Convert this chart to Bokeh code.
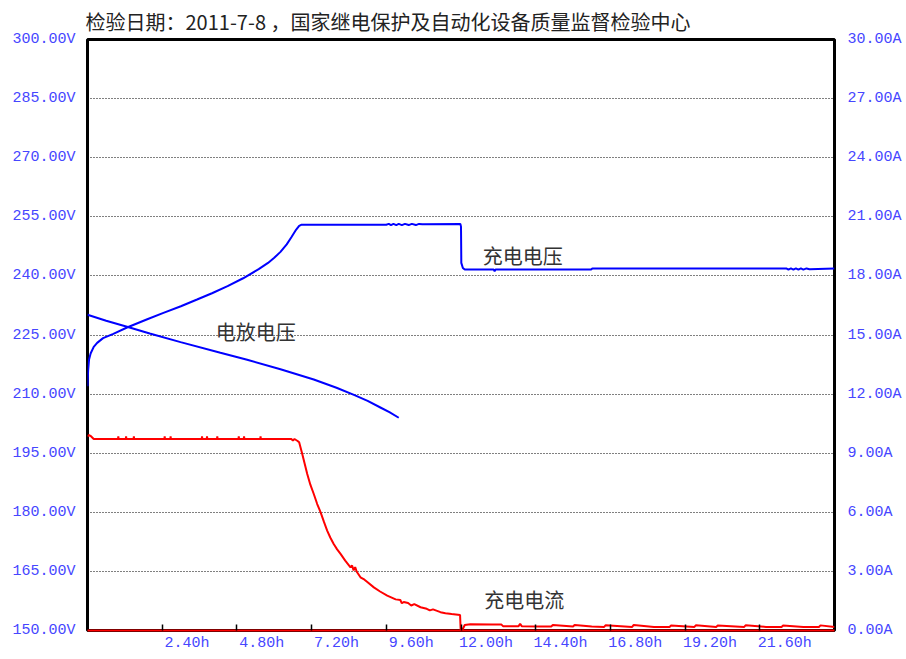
from bokeh.plotting import figure
from bokeh.models import Range1d, LinearAxis, FixedTicker, PrintfTickFormatter
from bokeh.core.properties import value
from bokeh.embed import file_html
from bokeh.resources import INLINE

TITLE = "检验日期：2011-7-8 ，国家继电保护及自动化设备质量监督检验中心"

# Axis ticks and labels
volt_ticks = [150, 165, 180, 195, 210, 225, 240, 255, 270, 285, 300]
amp_ticks = [0, 3, 6, 9, 12, 15, 18, 21, 24, 27, 30]
hour_ticks = [2.4, 4.8, 7.2, 9.6, 12.0, 14.4, 16.8, 19.2, 21.6]
hour_labels = ["2.40h", "4.80h", "7.20h", "9.60h", "12.00h", "14.40h", "16.80h", "19.20h", "21.60h"]

# Charging voltage (V) vs time (h)
charge_v_h = [0.00, 0.02, 0.05, 0.10, 0.20, 0.31, 0.50, 0.83, 1.27, 1.92, 2.44, 3.00, 3.52,
              4.00, 4.50, 5.00, 5.50, 5.80, 6.00, 6.20, 6.40, 6.55, 6.70, 6.80, 6.88, 8.00, 9.60,
              9.68, 9.75, 9.83, 9.92, 10.00, 10.10, 10.20, 10.32, 10.42, 10.55, 10.65, 10.76,
              11.98, 12.00, 12.01, 12.06, 12.12, 13.05, 13.08, 13.11, 16.18, 16.22, 22.45,
              22.52, 22.60, 22.68, 22.76, 22.84, 22.92, 23.00, 23.10, 23.20, 24.00]
charge_v = [212.0, 216.0, 218.8, 220.3, 222.0, 223.0, 224.2, 225.3, 226.9, 229.0, 230.6, 232.3, 234.0,
            235.6, 237.4, 239.4, 241.7, 243.3, 244.6, 246.1, 248.0, 249.8, 251.7, 252.7, 253.0, 253.0, 253.0,
            253.2, 252.9, 253.2, 252.9, 253.2, 252.9, 253.2, 252.9, 253.2, 252.9, 253.2, 253.1,
            253.2, 252.5, 243.3, 242.0, 241.6, 241.6, 241.2, 241.6, 241.6, 241.9, 241.9,
            241.6, 241.9, 241.6, 241.9, 241.6, 241.9, 241.6, 241.9, 241.7, 241.9]

# Discharging voltage (V) vs time (h)
discharge_v_h = [0.00, 0.05, 0.60, 1.27, 2.00, 2.99, 4.27, 5.13, 6.20, 7.27, 8.00, 8.56, 9.00, 9.41, 9.70, 10.00]
discharge_v = [230.2, 230.0, 228.6, 227.1, 225.4, 223.2, 220.5, 218.7, 216.3, 213.7, 211.6, 209.8, 208.3, 206.6, 205.4, 204.0]

# Charging current (A) vs time (h)
current_h = [0.00, 0.05, 0.12, 0.20, 0.98, 0.99, 1.00, 1.23, 1.24, 1.25, 1.48, 1.49, 1.50,
             2.47, 2.48, 2.49, 2.66, 2.67, 2.68, 3.67, 3.68, 3.69, 3.83, 3.84, 3.85, 4.16, 4.17, 4.18,
             4.85, 4.86, 4.87, 5.02, 5.03, 5.04, 5.55, 5.56, 5.57, 6.55, 6.60, 6.65, 6.75, 6.80,
             6.90, 6.98, 7.06, 7.16, 7.27, 7.38, 7.49, 7.60, 7.70, 7.80, 7.91, 8.02, 8.13, 8.28,
             8.45, 8.50, 8.55, 8.60, 8.65, 8.77, 8.90, 9.00, 9.20, 9.40, 9.63, 9.90, 10.05, 10.10,
             10.16, 10.30, 10.40, 10.50, 10.70, 10.90, 11.00, 11.10, 11.34, 11.50, 11.70, 11.97,
             11.99, 12.05, 12.12, 12.30, 13.00, 13.30, 13.35, 13.85, 13.90, 13.95, 14.50, 14.90,
             14.95, 15.60, 15.65, 16.20, 16.60, 16.65, 17.50, 17.55, 18.20, 18.70, 18.75, 19.50,
             19.55, 20.20, 20.25, 21.10, 21.15, 21.80, 22.30, 22.35, 23.00, 23.50, 23.55, 24.00]
current_a = [9.85, 9.92, 9.85, 9.72, 9.72, 9.86, 9.72, 9.72, 9.86, 9.72, 9.72, 9.86, 9.72,
             9.72, 9.86, 9.72, 9.72, 9.86, 9.72, 9.72, 9.86, 9.72, 9.72, 9.86, 9.72, 9.72, 9.86, 9.72,
             9.72, 9.86, 9.72, 9.72, 9.86, 9.72, 9.72, 9.86, 9.72, 9.72, 9.64, 9.72, 9.62, 9.55,
             8.96, 8.45, 7.94, 7.40, 6.93, 6.42, 6.00, 5.50, 5.07, 4.72, 4.39, 4.12, 3.89, 3.55,
             3.21, 3.30, 3.05, 3.22, 2.98, 2.70, 2.58, 2.45, 2.19, 1.98, 1.77, 1.58, 1.55, 1.38,
             1.45, 1.40, 1.27, 1.34, 1.18, 1.10, 1.02, 1.07, 0.93, 0.88, 0.84, 0.79,
             0.00, 0.05, 0.28, 0.32, 0.30, 0.30, 0.22, 0.22, 0.34, 0.22, 0.20, 0.20,
             0.28, 0.20, 0.28, 0.20, 0.18, 0.27, 0.18, 0.28, 0.18, 0.18, 0.26, 0.18,
             0.27, 0.18, 0.26, 0.18, 0.27, 0.18, 0.18, 0.26, 0.18, 0.18, 0.26, 0.18]

# Curve captions
caption_text = ["充电电压", "电放电压", "充电电流"]
caption_h = [12.70, 4.12, 12.75]
caption_v = [245.2, 225.8, 157.9]

BLUE_TEXT = "#4646ff"
TICK_FONT = "Liberation Mono"
CJK_FONT = "Noto Sans CJK SC"

p = figure(width=906, height=659, output_backend="svg", toolbar_location=None,
           x_range=Range1d(0, 24), y_range=Range1d(150, 300),
           min_border_left=87, min_border_right=72, min_border_top=38, min_border_bottom=29,
           background_fill_color="white", border_fill_color="white")

p.title.text = TITLE
p.title.text_font = CJK_FONT
p.title.text_font_size = "20px"
p.title.text_font_style = "normal"
p.title.text_color = "#222222"
p.title.align = "left"
p.title.offset = -2
p.title.standoff = 8

p.outline_line_color = "black"
p.outline_line_width = 3
p.outline_line_alpha = 1.0

# Left voltage axis
ya = p.yaxis[0]
ya.ticker = FixedTicker(ticks=volt_ticks)
ya.formatter = PrintfTickFormatter(format="%.2fV")
ya.major_tick_in = 0
ya.major_tick_out = 0
ya.minor_tick_line_color = None
ya.axis_line_color = None
ya.major_label_standoff = 12
ya.major_label_text_font = TICK_FONT
ya.major_label_text_font_size = "15px"
ya.major_label_text_color = BLUE_TEXT

p.ygrid.ticker = FixedTicker(ticks=volt_ticks[1:-1])
p.ygrid.grid_line_color = "black"
p.ygrid.grid_line_dash = "1 2"
p.ygrid.grid_line_width = 1
p.xgrid.grid_line_color = None

# Right current axis
p.extra_y_ranges = {"amp": Range1d(0, 30)}
ra = LinearAxis(y_range_name="amp", ticker=FixedTicker(ticks=amp_ticks),
                formatter=PrintfTickFormatter(format="%.2fA"))
ra.major_tick_in = 0
ra.major_tick_out = 0
ra.minor_tick_line_color = None
ra.axis_line_color = None
ra.major_label_standoff = 13
ra.major_label_text_font = TICK_FONT
ra.major_label_text_font_size = "15px"
ra.major_label_text_color = BLUE_TEXT
p.add_layout(ra, "right")

# Bottom time axis: inward tick marks only
xa = p.xaxis[0]
xa.ticker = FixedTicker(ticks=hour_ticks)
xa.major_tick_in = 6
xa.major_tick_out = 0
xa.major_tick_line_color = "black"
xa.major_tick_line_width = 1.5
xa.minor_tick_line_color = None
xa.axis_line_color = "red"
xa.axis_line_width = 2
xa.major_label_text_font_size = "0px"
xa.major_label_text_color = None
xa.major_label_standoff = 0

# Bottom time axis: labels set just right of each tick
LABEL_SHIFT = 0.8
label_pos = [round(t + LABEL_SHIFT, 2) for t in hour_ticks]
xl = LinearAxis(ticker=FixedTicker(ticks=label_pos),
                major_label_overrides={pos: lab for pos, lab in zip(label_pos, hour_labels)})
xl.major_tick_in = 0
xl.major_tick_out = 0
xl.minor_tick_line_color = None
xl.axis_line_color = None
xl.major_label_standoff = 4
xl.major_label_text_font = TICK_FONT
xl.major_label_text_font_size = "15px"
xl.major_label_text_color = BLUE_TEXT
p.add_layout(xl, "below")

# Curves
p.line(discharge_v_h, discharge_v, line_color="#0000ff", line_width=2)
p.line(charge_v_h, charge_v, line_color="#0000ff", line_width=2)
p.line(current_h, current_a, y_range_name="amp", line_color="#ff0000", line_width=2)

p.text(x=caption_h, y=caption_v, text=caption_text, text_font=value(CJK_FONT),
       text_font_size="20px", text_color="#333333", text_align="left", text_baseline="middle")

open("out.html", "w").write(file_html(p, INLINE))
